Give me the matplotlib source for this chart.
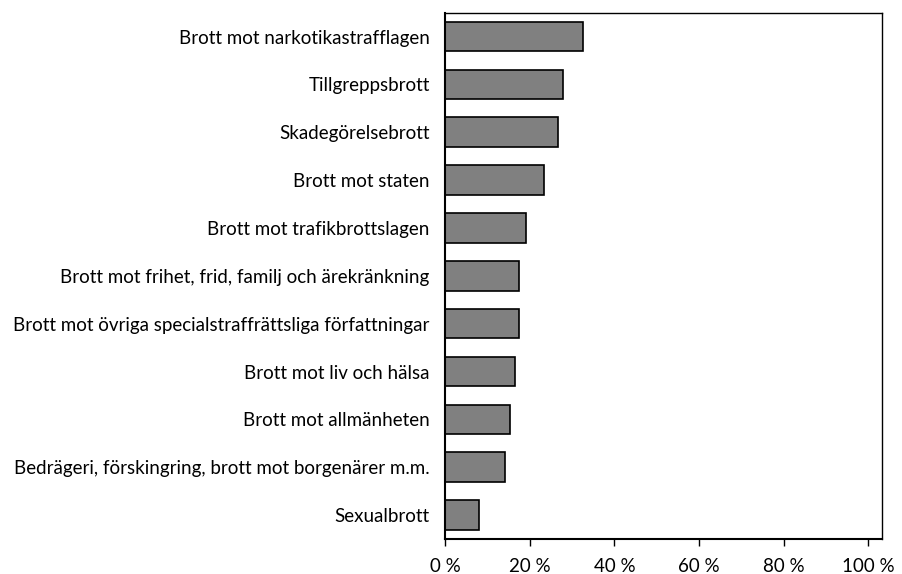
import matplotlib
matplotlib.use('Agg')
import matplotlib.pyplot as plt

# brottskategorier, uppifrån och ned
categories = [
    'Brott mot narkotikastrafflagen',
    'Tillgreppsbrott',
    'Skadegörelsebrott',
    'Brott mot staten',
    'Brott mot trafikbrottslagen',
    'Brott mot frihet, frid, familj och ärekränkning',
    'Brott mot övriga specialstraffrättsliga författningar',
    'Brott mot liv och hälsa',
    'Brott mot allmänheten',
    'Bedrägeri, förskingring, brott mot borgenärer m.m.',
    'Sexualbrott',
]
values = [32.5, 27.8, 26.8, 23.4, 19.1, 17.4, 17.5, 16.5, 15.3, 14.2, 8.0]
xticks = [0, 20, 40, 60, 80, 100]
xticklabels = ['0 %', '20 %', '40 %', '60 %', '80 %', '100 %']

plt.rcParams['font.family'] = ['Lato', 'DejaVu Sans']

fig = plt.figure(figsize=(9.02, 5.74), dpi=100)
ax = fig.add_axes([0.4933, 0.061, 0.4845, 0.917])

ypos = list(range(len(categories)))[::-1]
ax.barh(ypos, values, height=0.62, color='#808080', edgecolor='black', linewidth=1.2)

ax.set_xlim(0, 103.2)
ax.set_ylim(-0.5, len(categories) - 0.5)
ax.set_xticks(xticks)
ax.set_xticklabels(xticklabels, fontsize=13.5)
ax.set_yticks(ypos)
ax.set_yticklabels(categories, fontsize=13.5)
ax.tick_params(axis='y', length=0, pad=11)
ax.tick_params(axis='x', length=5, width=1, pad=9)
for s in ax.spines.values():
    s.set_linewidth(1)
ax.spines['left'].set_linewidth(1.5)
ax.spines['bottom'].set_linewidth(1.5)

fig.savefig('out.png', dpi=100)
